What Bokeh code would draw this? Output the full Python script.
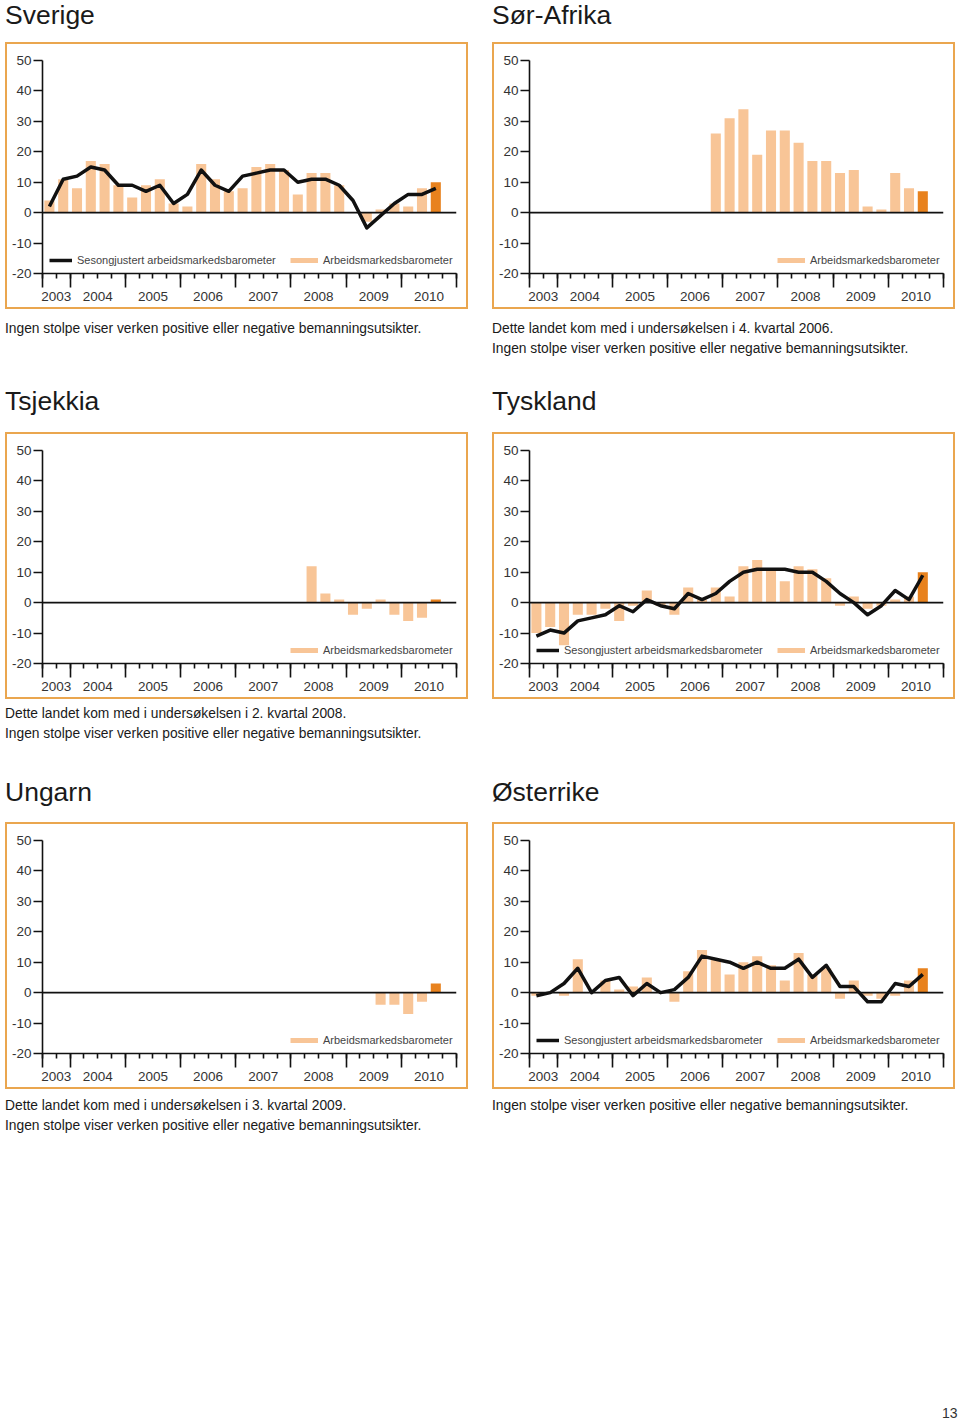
from bokeh.plotting import figure
from bokeh.models import (Range1d, FixedTicker, LinearAxis, Span, Legend, LegendItem,
                          Div, Spacer, CustomLabelingPolicy)
from bokeh.layouts import column, row
from bokeh.core.properties import value
from bokeh.embed import file_html
from bokeh.resources import INLINE

# ---------------- data ----------------
years = ["2003", "2004", "2005", "2006", "2007", "2008", "2009", "2010"]
slots_per_year = [2, 4, 4, 4, 4, 4, 4, 4]   # quarters shown per year (2003 starts in Q3)

sverige_bars = [4, 11, 8, 17, 16, 9, 5, 9, 11, 3, 2, 16, 11, 7, 8, 15, 16, 14, 6, 13,
                13, 9, 0, -3, 1, 3, 2, 8, 10]
sverige_line = [2, 11, 12, 15, 14, 9, 9, 7, 9, 3, 6, 14, 9, 7, 12, 13, 14, 14, 10, 11,
                11, 9, 4, -5, -1, 3, 6, 6, 8]

sorafrika_bars = [None] * 13 + [26, 31, 34, 19, 27, 27, 23, 17, 17, 13, 14, 2, 1, 13, 8, 7]

tsjekkia_bars = [None] * 19 + [12, 3, 1, -4, -2, 1, -4, -6, -5, 1]

tyskland_bars = [-10, -8, -14, -4, -4, -2, -6, -1, 4, -1, -4, 5, 1, 5, 2, 12, 14, 11, 7, 12,
                 11, 8, -1, 2, -2, -1, 1, 2, 10]
tyskland_line = [-11, -9, -10, -6, -5, -4, -1, -3, 1, -1, -2, 3, 1, 3, 7, 10, 11, 11, 11, 10,
                 10, 7, 3, 0, -4, -1, 4, 1, 9]

ungarn_bars = [None] * 24 + [-4, -4, -7, -3, 3]

osterrike_bars = [-1, 0, -1, 11, 0, 4, 1, 2, 5, 0, -3, 7, 14, 11, 6, 10, 12, 9, 4, 13,
                  6, 8, -2, 4, -1, -2, -1, 4, 8]
osterrike_line = [-1, 0, 3, 8, 0, 4, 5, -1, 3, 0, 1, 5, 12, 11, 10, 8, 10, 8, 8, 11,
                  5, 9, 2, 2, -3, -3, 3, 2, 6]

y_ticks = [-20, -10, 0, 10, 20, 30, 40, 50]
y_tick_labels = ["-20", "-10", "0", "10", "20", "30", "40", "50"]

LINE_LABEL = "Sesongjustert arbeidsmarkedsbarometer"
BAR_LABEL = "Arbeidsmarkedsbarometer"
NOTE_START = "Dette landet kom med i undersøkelsen i {}."
NOTE_NONE = "Ingen stolpe viser verken positive eller negative bemanningsutsikter."
PAGE_NO = "13"

# ---------------- style ----------------
LIGHT = "#F8C597"
DARK = "#E8821E"
BORDER = "#EAA64F"
INK = "#1a1a1a"
FONT = "Liberation Sans"

PW, PH = 463, 267
MB_L, MB_R, MB_T, MB_B = 35, 14, 16, 38
n_slots = sum(slots_per_year)
bounds = [0]
for s in slots_per_year:
    bounds.append(bounds[-1] + s)
year_centers = [(bounds[i] + bounds[i + 1]) / 2 for i in range(len(years))]


def make_fig(bars, line=None):
    p = figure(width=PW, height=PH, x_range=Range1d(0, n_slots), y_range=Range1d(-20, 50),
               output_backend="svg", toolbar_location=None,
               x_axis_location=None, y_axis_location=None,
               min_border_left=MB_L, min_border_right=MB_R, min_border_top=MB_T,
               min_border_bottom=MB_B,
               outline_line_color=None, border_fill_color="white", background_fill_color="white",
               styles={"border": f"2px solid {BORDER}", "box-sizing": "border-box"})
    p.grid.visible = False

    yax = LinearAxis(ticker=FixedTicker(ticks=y_ticks, minor_ticks=[]),
                     major_label_overrides=dict(zip(y_ticks, y_tick_labels)),
                     major_tick_out=9, major_tick_in=0, minor_tick_out=0,
                     major_label_standoff=2, major_label_text_font_size="13.5px",
                     major_label_text_font=FONT, major_label_text_color="#333",
                     axis_line_color="#111", axis_line_width=1.6,
                     major_tick_line_color="#111", major_tick_line_width=1.6)
    p.add_layout(yax, "left")

    # year-boundary (long) and quarter (short) ticks, no labels
    xt = LinearAxis(ticker=FixedTicker(ticks=bounds, minor_ticks=list(range(n_slots + 1))),
                    major_tick_out=14, major_tick_in=0, minor_tick_out=5, minor_tick_in=0,
                    major_label_text_font_size="1px", major_label_standoff=0,
                    major_label_policy=CustomLabelingPolicy(code="return;"),
                    axis_line_color="#111", axis_line_width=1.6,
                    major_tick_line_color="#111", major_tick_line_width=1.6,
                    minor_tick_line_color="#111", minor_tick_line_width=1.6)
    p.add_layout(xt, "below")
    # year labels centred in each year
    xl = LinearAxis(ticker=FixedTicker(ticks=year_centers, minor_ticks=[]),
                    major_label_overrides={c: y for c, y in zip(year_centers, years)},
                    major_tick_out=0, major_tick_in=0, minor_tick_out=0, minor_tick_in=0,
                    axis_line_color=None, major_tick_line_color=None, minor_tick_line_color=None,
                    major_label_standoff=0, major_label_text_font_size="13.5px",
                    major_label_text_font=FONT, major_label_text_color="#333")
    p.add_layout(xl, "below")

    xs, tops, cols = [], [], []
    present = [i for i, v in enumerate(bars) if v is not None]
    last = present[-1]
    for i in present:
        xs.append(i + 0.5)
        tops.append(bars[i])
        cols.append(DARK if i == last else LIGHT)
    p.vbar(x=xs, top=tops, bottom=0, width=0.73, fill_color=cols, line_color=None)

    p.add_layout(Span(location=0, dimension="width", line_color="#111", line_width=1.6))

    legend_style = dict(orientation="horizontal", glyph_height=12, label_height=12,
                        label_standoff=5, padding=0, margin=0, border_line_color=None,
                        background_fill_alpha=0, label_text_font_size="11px",
                        label_text_color="#444", label_text_font=FONT)
    if line is not None:
        lr = p.line(x=[i + 0.5 for i in range(len(line))], y=line, line_color="#111",
                    line_width=3.5, line_join="round")
        lleg = Legend(items=[LegendItem(label=value(LINE_LABEL), renderers=[lr])],
                      location=(7, 7), glyph_width=23, **legend_style)
        p.add_layout(lleg)

    # legend swatch for the bars (a thick light-orange stroke, as in the original key)
    proxy = p.line(x=[float("nan")], y=[float("nan")], line_color=LIGHT, line_width=5)
    frame_w = PW - MB_L - MB_R
    bleg = Legend(items=[LegendItem(label=value(BAR_LABEL), renderers=[proxy])],
                  location=(frame_w - 2 - 164, 7), glyph_width=28, **legend_style)
    p.add_layout(bleg)
    return p


def title_div(text, h, pad):
    return Div(text=f'<div style="font-family:{FONT};font-size:26.5px;line-height:26px;'
                    f'color:{INK};padding-top:{pad}px;white-space:nowrap">{text}</div>',
               width=PW, height=h, margin=(0, 0, 0, 0))


def caption_div(lines, h, pad):
    html = "<br>".join(lines)
    return Div(text=f'<div style="font-family:{FONT};font-size:13.8px;line-height:19.5px;'
                    f'color:{INK};padding-top:{pad}px;white-space:nowrap">{html}</div>',
               width=PW, height=h, margin=(0, 0, 0, 0))


left = column(
    title_div("Sverige", 42, 2),
    make_fig(sverige_bars, sverige_line),
    caption_div([NOTE_NONE], 58, 10),
    title_div("Tsjekkia", 65, 21),
    make_fig(tsjekkia_bars),
    caption_div([NOTE_START.format("2. kvartal 2008"), NOTE_NONE], 58, 5),
    title_div("Ungarn", 65, 22),
    make_fig(ungarn_bars),
    caption_div([NOTE_START.format("3. kvartal 2009"), NOTE_NONE], 58, 7),
    spacing=0)

right = column(
    title_div("Sør-Afrika", 42, 2),
    make_fig(sorafrika_bars),
    caption_div([NOTE_START.format("4. kvartal 2006"), NOTE_NONE], 58, 10),
    title_div("Tyskland", 65, 21),
    make_fig(tyskland_bars, tyskland_line),
    caption_div([], 58, 5),
    title_div("Østerrike", 65, 22),
    make_fig(osterrike_bars, osterrike_line),
    caption_div([NOTE_NONE], 58, 7),
    spacing=0)

page_no = Div(text=f'<div style="font-family:{FONT};font-size:14px;line-height:20px;'
                   f'color:#333">{PAGE_NO}</div>',
              width=18, height=20, margin=(0, 0, 0, 0))

layout = column(
    row(Spacer(width=5), left, Spacer(width=24), right, spacing=0),
    Spacer(height=256),
    row(Spacer(width=942), page_no, spacing=0),
    spacing=0)

open("out.html", "w").write(file_html(layout, INLINE))
